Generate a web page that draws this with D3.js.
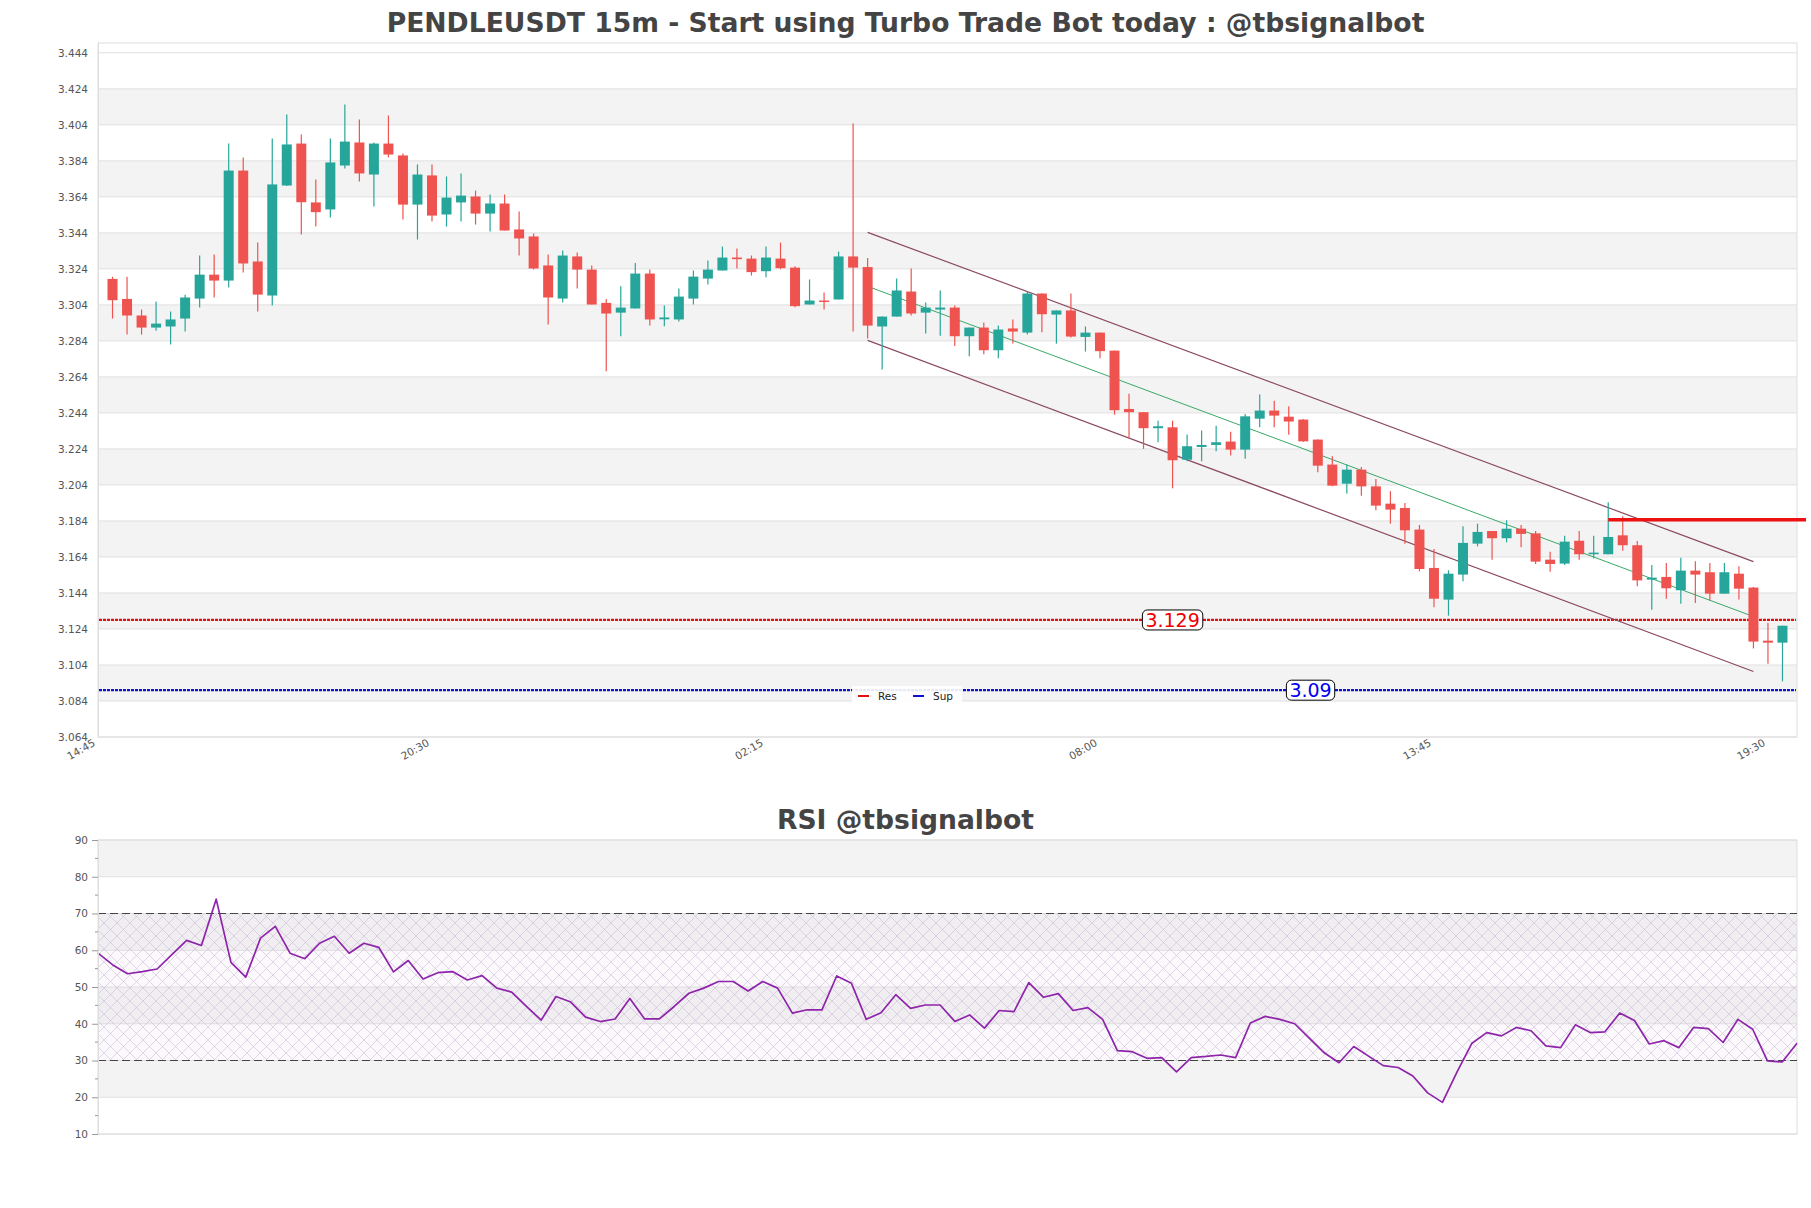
<!DOCTYPE html>
<html><head><meta charset="utf-8">
<script src="https://cdn.jsdelivr.net/npm/d3@7"></script>
<style>body{margin:0;background:#fff} svg{display:block}</style>
</head><body><svg id="c" width="1811" height="1208"></svg>
<script>
const title = "PENDLEUSDT 15m - Start using Turbo Trade Bot today : @tbsignalbot";
const rsiTitle = "RSI @tbsignalbot";
const tickIndex = [-1, 22, 45, 68, 91, 114];
const tickLabels = ["14:45", "20:30", "02:15", "08:00", "13:45", "19:30"];
const priceTicks = [3.064,3.084,3.104,3.124,3.144,3.164,3.184,3.204,3.224,3.244,3.264,3.284,3.304,3.324,3.344,3.364,3.384,3.404,3.424,3.444];
const rsiTicks = [10,20,30,40,50,60,70,80,90];

const opens = [3.3184,3.3073,3.2981,3.2914,3.2920,3.2964,3.3075,3.3208,3.3175,3.3786,
3.3281,3.3092,3.3703,3.3936,3.3609,3.3570,3.3814,3.3942,3.3764,3.3936,
3.3870,3.3597,3.3759,3.3542,3.3609,3.3642,3.3547,3.3603,3.3459,3.3420,
3.3259,3.3075,3.3309,3.3236,3.3051,3.2997,3.3020,3.3214,3.2960,3.2959,
3.3075,3.3186,3.3231,3.3303,3.3297,3.3227,3.3297,3.3247,3.3042,3.3064,
3.3070,3.3309,3.3250,3.2920,3.2975,3.3114,3.2997,3.3014,3.3025,3.2866,
3.2914,3.2788,3.2909,3.2886,3.3103,3.2986,3.3009,3.2862,3.2886,3.2786,
3.2462,3.2444,3.2355,3.2360,3.2180,3.2251,3.2262,3.2281,3.2236,3.2408,
3.2453,3.2419,3.2403,3.2292,3.2153,3.2047,3.2125,3.2032,3.1936,3.1912,
3.1792,3.1579,3.1403,3.1542,3.1714,3.1784,3.1744,3.1797,3.1771,3.1625,
3.1603,3.1730,3.1655,3.1655,3.1760,3.1705,3.1514,3.1529,3.1455,3.1564,
3.1555,3.1436,3.1547,3.1470,3.1175,3.1164];
const highs = [3.3196,3.3196,3.3014,3.3059,3.3003,3.3096,3.3314,3.3320,3.3936,3.3859,
3.3386,3.3964,3.4097,3.3986,3.3736,3.3964,3.4153,3.4070,3.3942,3.4092,
3.3881,3.3820,3.3820,3.3753,3.3770,3.3675,3.3653,3.3653,3.3559,3.3436,
3.3320,3.3342,3.3331,3.3259,3.3073,3.3144,3.3273,3.3236,3.3036,3.3131,
3.3231,3.3286,3.3364,3.3353,3.3314,3.3364,3.3386,3.3255,3.3181,3.3109,
3.3336,3.4047,3.3300,3.2975,3.3186,3.3242,3.3053,3.3120,3.3036,3.2914,
3.2942,3.2925,3.2959,3.3114,3.3103,3.3009,3.3103,3.2920,3.2886,3.2786,
3.2547,3.2444,3.2397,3.2397,3.2320,3.2342,3.2369,3.2336,3.2434,3.2542,
3.2508,3.2477,3.2406,3.2292,3.2199,3.2153,3.2140,3.2073,3.2005,3.1940,
3.1818,3.1684,3.1566,3.1810,3.1825,3.1784,3.1844,3.1818,3.1784,3.1669,
3.1758,3.1784,3.1758,3.1944,3.1866,3.1729,3.1595,3.1607,3.1636,3.1616,
3.1607,3.1607,3.1588,3.1473,3.1275,3.1258];
const lows = [3.2964,3.2875,3.2875,3.2897,3.2820,3.2892,3.3025,3.3081,3.3136,3.3220,
3.3003,3.3036,3.3700,3.3431,3.3475,3.3525,3.3797,3.3725,3.3586,3.3859,
3.3514,3.3403,3.3503,3.3475,3.3503,3.3486,3.3447,3.3453,3.3314,3.3236,
3.2931,3.3053,3.3131,3.3042,3.2672,3.2866,3.3020,3.2925,3.2921,3.2947,
3.3042,3.3153,3.3231,3.3242,3.3203,3.3194,3.3238,3.3027,3.3042,3.3014,
3.3070,3.2892,3.2853,3.2681,3.2975,3.2981,3.2881,3.2869,3.2811,3.2755,
3.2766,3.2744,3.2825,3.2875,3.2888,3.2825,3.2859,3.2781,3.2744,3.2430,
3.2301,3.2240,3.2277,3.2021,3.2171,3.2171,3.2227,3.2203,3.2186,3.2360,
3.2360,3.2319,3.2280,3.2110,3.2032,3.1992,3.1980,3.1899,3.1825,3.1714,
3.1560,3.1360,3.1314,3.1505,3.1699,3.1625,3.1721,3.1694,3.1601,3.1558,
3.1595,3.1625,3.1632,3.1655,3.1675,3.1477,3.1347,3.1408,3.1380,3.1384,
3.1399,3.1436,3.1403,3.1132,3.1047,3.0949];
const closes = [3.3066,3.2981,3.2914,3.2936,3.2959,3.3081,3.3208,3.3175,3.3786,3.3270,
3.3097,3.3709,3.3931,3.3610,3.3555,3.3831,3.3947,3.3770,3.3936,3.3875,
3.3597,3.3764,3.3536,3.3636,3.3647,3.3547,3.3603,3.3453,3.3409,3.3242,
3.3081,3.3314,3.3236,3.3042,3.2992,3.3025,3.3214,3.2959,3.2970,3.3086,
3.3197,3.3236,3.3303,3.3294,3.3222,3.3303,3.3244,3.3033,3.3064,3.3059,
3.3309,3.3247,3.2925,3.2975,3.3120,3.2992,3.3025,3.3025,3.2866,3.2914,
3.2788,3.2903,3.2892,3.3103,3.2988,3.3009,3.2864,3.2886,3.2783,3.2455,
3.2444,3.2355,3.2366,3.2177,3.2255,3.2262,3.2277,3.2236,3.2421,3.2453,
3.2425,3.2392,3.2282,3.2147,3.2036,3.2125,3.2032,3.1925,3.1903,3.1788,
3.1573,3.1408,3.1547,3.1718,3.1779,3.1744,3.1797,3.1768,3.1614,3.1601,
3.1725,3.1655,3.1664,3.1751,3.1705,3.1510,3.1525,3.1466,3.1564,3.1542,
3.1436,3.1555,3.1464,3.1170,3.1164,3.1258];
const rsi = [59.2,56.0,53.6,54.2,54.9,58.8,62.7,61.3,73.9,56.7,
52.7,63.3,66.5,59.2,57.7,61.9,63.8,59.2,61.9,60.8,
54.1,57.2,52.2,53.9,54.2,51.9,53.1,49.7,48.6,44.7,
41.0,47.4,45.9,41.8,40.6,41.3,46.9,41.3,41.3,44.7,
48.3,49.7,51.5,51.5,48.9,51.5,49.7,42.9,43.8,43.8,
53.0,51.0,41.2,43.0,47.9,44.2,45.1,45.1,40.6,42.4,
38.8,43.6,43.3,51.2,47.2,48.2,43.6,44.4,41.2,32.7,
32.4,30.6,30.8,26.9,30.8,31.1,31.5,30.8,40.2,42.0,
41.2,40.0,36.0,32.1,29.4,33.8,31.2,28.6,28.1,25.8,
21.2,18.6,27.0,34.7,37.6,36.7,39.0,38.1,34.0,33.5,
39.7,37.6,37.8,42.9,40.9,34.5,35.4,33.5,39.0,38.7,
34.9,41.2,38.5,29.9,29.6,34.7];

const resistance = 3.129, support = 3.09;
const channelIdx = [52, 113];
const channelUpper = [3.3443, 3.1614];
const channelLower = [3.2843, 3.1004];
const channelMid = [3.3143, 3.1309];
const levelIdx = 103, levelValue = 3.1847;
const legendNames = ["Res", "Sup"];

const candles = opens.map((o,i)=>({i, o, h:highs[i], l:lows[i], c:closes[i]}));

const W = 1811, H = 1208;
const svg = d3.select("#c");
svg.append("rect").attr("width",W).attr("height",H).attr("fill","#fff");
const font = "'DejaVu Sans', sans-serif";
const GREEN = "#26a69a", RED = "#ef5350";

// ---------- main chart ----------
const L = 98, R = 1797, T = 43, B = 737;
const x = d3.scaleLinear().domain([-1, 116]).range([L, R]);
const y = d3.scaleLinear().domain([3.064, 3.064 + (B - T) / 1800.5]).range([B, T]);

const g = svg.append("g");
for (let k = 1; k < priceTicks.length - 1; k += 2) {
  g.append("rect").attr("x", L).attr("width", R - L)
    .attr("y", y(priceTicks[k+1])).attr("height", y(priceTicks[k]) - y(priceTicks[k+1]))
    .attr("fill", "#f3f3f3");
}
g.selectAll(".gl").data(priceTicks).enter().append("line")
  .attr("x1", L).attr("x2", R).attr("y1", d=>y(d)).attr("y2", d=>y(d))
  .attr("stroke", "#e0e0e0").attr("stroke-width", 1);
g.append("rect").attr("x", L).attr("y", T).attr("width", R-L).attr("height", B-T)
  .attr("fill", "none").attr("stroke", "#dedede").attr("stroke-width", 1);

const ya = d3.axisLeft(y).tickValues(priceTicks).tickFormat(d3.format(".3f")).tickSize(0).tickPadding(10);
const yag = svg.append("g").attr("transform", `translate(${L},0)`).call(ya);
yag.select(".domain").attr("stroke", "#dedede");
yag.selectAll("text").attr("fill", "#555").style("font-family", font).style("font-size", "10.5px");

const xa = svg.append("g");
xa.selectAll("text").data(tickIndex).enter().append("text")
  .attr("transform", (d)=>`translate(${x(d)-2},745) rotate(-30)`)
  .attr("text-anchor", "end").attr("fill", "#555")
  .style("font-family", font).style("font-size", "10.5px")
  .text((d,i)=>tickLabels[i]);

function hline(v, color) {
  g.append("line").attr("x1", L+1).attr("x2", R-1).attr("y1", y(v)).attr("y2", y(v))
    .attr("stroke", color).attr("stroke-width", 2.2).attr("stroke-dasharray", "3,1");
}
hline(resistance, "#e01010");
hline(support, "#1010d0");

const chan = g.append("g");
function cline(vals, color, w) {
  chan.append("line").attr("x1", x(channelIdx[0])).attr("x2", x(channelIdx[1]))
    .attr("y1", y(vals[0])).attr("y2", y(vals[1]))
    .attr("stroke", color).attr("stroke-width", w);
}
cline(channelUpper, "#8c4a60", 1.2);
cline(channelLower, "#8c4a60", 1.2);
cline(channelMid, "#3aa867", 1);

const cg = g.append("g");
const bw = 10;
cg.selectAll(".wick").data(candles).enter().append("line")
  .attr("x1", d=>x(d.i)).attr("x2", d=>x(d.i))
  .attr("y1", d=>y(d.h)).attr("y2", d=>y(d.l))
  .attr("stroke", d=> d.c >= d.o ? GREEN : RED).attr("stroke-width", 1.2);
cg.selectAll(".body").data(candles).enter().append("rect")
  .attr("x", d=>x(d.i) - bw/2).attr("width", bw)
  .attr("y", d=>y(Math.max(d.o, d.c)))
  .attr("height", d=>Math.max(1.5, Math.abs(y(d.o) - y(d.c))))
  .attr("fill", d=> d.c >= d.o ? GREEN : RED);

g.append("line").attr("x1", x(levelIdx)).attr("x2", W - 5)
  .attr("y1", y(levelValue)).attr("y2", y(levelValue))
  .attr("stroke", "#ee1111").attr("stroke-width", 3.5);

function vlabel(v, idx, color) {
  const gg = svg.append("g");
  const t = gg.append("text").attr("x", x(idx)).attr("y", y(v)).attr("dy", "0.37em")
    .attr("text-anchor", "middle").attr("fill", color)
    .style("font-family", font).style("font-size", "19px")
    .text(String(v));
  const bb = t.node().getBBox();
  gg.insert("rect", "text").attr("x", bb.x - 3).attr("y", y(v) - 10)
    .attr("width", bb.width + 6).attr("height", 20).attr("rx", 5)
    .attr("fill", "#fff").attr("stroke", "#000").attr("stroke-width", 1);
}
vlabel(resistance, 73.0, "#ee0000");
vlabel(support, 82.5, "#0000ee");

const lg = svg.append("g");
lg.append("rect").attr("x", 852).attr("y", 686).attr("width", 110).attr("height", 18)
  .attr("fill", "#fff").attr("fill-opacity", 0.9);
const lcols = ["#e01010", "#1010d0"];
legendNames.forEach((n, i) => {
  const ox = 858 + i * 55;
  lg.append("line").attr("x1", ox).attr("x2", ox + 11).attr("y1", 696).attr("y2", 696)
    .attr("stroke", lcols[i]).attr("stroke-width", 2);
  lg.append("text").attr("x", ox + 20).attr("y", 699.5).attr("fill", "#222")
    .style("font-family", font).style("font-size", "10.5px").text(n);
});

function fitTitle(txt, yy, targetW) {
  const t = svg.append("text").attr("x", W/2).attr("y", yy).attr("text-anchor", "middle")
    .attr("fill", "#444").style("font-family", font).style("font-weight", "bold")
    .style("font-size", "26px").text(txt);
  const w = t.node().getComputedTextLength();
  t.style("font-size", (26 * targetW / w).toFixed(2) + "px");
}
fitTitle(title, 32, 1038);

// ---------- RSI ----------
const RT = 840, RB = 1134;
const xr = d3.scaleLinear().domain([0, rsi.length - 1]).range([L, R]);
const yr = d3.scaleLinear().domain([10, 90]).range([RB, RT]);
const defs = svg.append("defs");
const pat = defs.append("pattern").attr("id", "hatch").attr("patternUnits", "userSpaceOnUse")
  .attr("width", 13).attr("height", 13);
pat.append("path").attr("d", "M0,0L13,13M13,0L0,13M-1,12L1,14M12,-1L14,1")
  .attr("stroke", "#cdbcd6").attr("stroke-width", 0.6).attr("fill", "none");

const rg = svg.append("g");
for (let j = 1; j < rsiTicks.length - 1; j += 2) {
  rg.append("rect").attr("x", L).attr("width", R - L)
    .attr("y", yr(rsiTicks[j+1])).attr("height", yr(rsiTicks[j]) - yr(rsiTicks[j+1]))
    .attr("fill", "#f3f3f3");
}
rg.selectAll(".rg").data(rsiTicks).enter().append("line")
  .attr("x1", L).attr("x2", R).attr("y1", d=>yr(d)).attr("y2", d=>yr(d))
  .attr("stroke", "#e0e0e0");
rg.append("rect").attr("x", L).attr("width", R-L).attr("y", yr(70)).attr("height", yr(30)-yr(70))
  .attr("fill", "#d9c6e6").attr("fill-opacity", 0.1);
rg.append("rect").attr("x", L).attr("width", R-L).attr("y", yr(70)).attr("height", yr(30)-yr(70))
  .attr("fill", "url(#hatch)");
rg.append("rect").attr("x", L).attr("y", RT).attr("width", R-L).attr("height", RB-RT)
  .attr("fill", "none").attr("stroke", "#dedede");
[70, 30].forEach(v => rg.append("line").attr("x1", L).attr("x2", R).attr("y1", yr(v)).attr("y2", yr(v))
  .attr("stroke", "#444").attr("stroke-width", 1.2).attr("stroke-dasharray", "8,4"));

const minor = d3.range(15, 90, 10);
const rya = d3.axisLeft(yr).tickValues(rsiTicks).tickSize(6).tickPadding(4);
const ryg = svg.append("g").attr("transform", `translate(${L},0)`).call(rya);
ryg.select(".domain").attr("stroke", "#dedede");
ryg.selectAll(".tick line").attr("stroke", "#999");
ryg.selectAll("text").attr("fill", "#555").style("font-family", font).style("font-size", "10.5px");
svg.append("g").selectAll("line").data(minor).enter().append("line")
  .attr("x1", L - 3).attr("x2", L).attr("y1", d=>yr(d)).attr("y2", d=>yr(d)).attr("stroke", "#999");

rg.append("path").datum(rsi)
  .attr("d", d3.line().x((d,i)=>xr(i)).y(d=>yr(d)))
  .attr("fill", "none").attr("stroke", "#8e24aa").attr("stroke-width", 1.7)
  .attr("stroke-linejoin", "round");

fitTitle(rsiTitle, 829, 257);
</script></body></html>
